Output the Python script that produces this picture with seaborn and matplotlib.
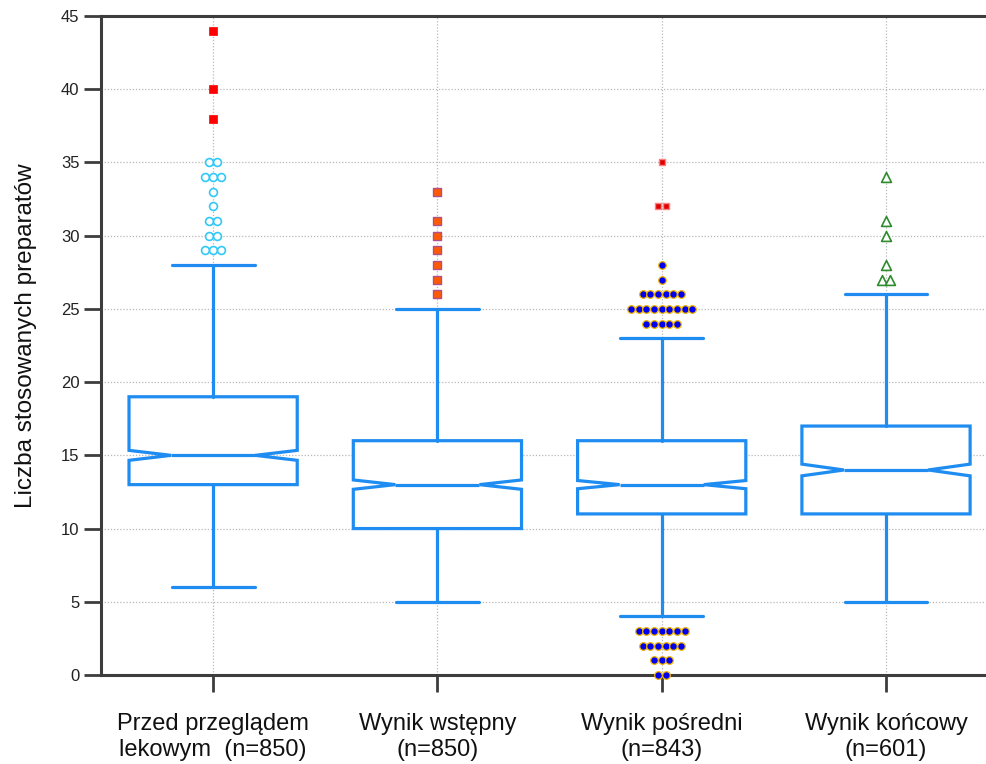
import numpy as np
import pandas as pd
import matplotlib
matplotlib.use("Agg")
import matplotlib.pyplot as plt
import seaborn as sns

# ---- data ----
categories = ["Przed przeglądem\nlekowym  (n=850)", "Wynik wstępny\n(n=850)",
              "Wynik pośredni\n(n=843)", "Wynik końcowy\n(n=601)"]
whisker_lo = [6, 5, 4, 5]
q1 = [13, 10, 11, 11]
median = [15, 13, 13, 14]
q3 = [19, 16, 16, 17]
whisker_hi = [28, 25, 23, 26]
notch_lo = [14.66, 12.68, 12.72, 13.6]
notch_hi = [15.34, 13.32, 13.28, 14.4]

g1_mild = [29, 29, 29, 30, 30, 31, 31, 32, 33, 34, 34, 34, 35, 35]
g1_extreme = [38, 40, 44]
g2_mild = [26, 27, 28, 29, 30, 31, 33]
g3_mild = [0, 0, 1, 1, 1, 2, 2, 2, 2, 2, 2, 3, 3, 3, 3, 3, 3, 3,
           24, 24, 24, 24, 24, 25, 25, 25, 25, 25, 25, 25, 25, 25,
           26, 26, 26, 26, 26, 26, 27, 28]
g3_extreme = [32, 32, 35]
g4_mild = [27, 27, 28, 30, 31, 34]

y_ticks = [0, 5, 10, 15, 20, 25, 30, 35, 40, 45]

# ---- style ----
sns.set_style("ticks")
plt.rcParams["font.family"] = ["Liberation Sans", "DejaVu Sans"]

BLUE = "#1E8CF0"
AX = "#3d3d3d"

fig = plt.figure(figsize=(9.87, 7.64), dpi=100)
ax = fig.add_axes([0.1023, 0.1165, 0.909, 0.8625])

stats = []
for i in range(len(categories)):
    stats.append(dict(med=median[i], q1=q1[i], q3=q3[i], whislo=whisker_lo[i],
                      whishi=whisker_hi[i], cilo=notch_lo[i], cihi=notch_hi[i],
                      fliers=[], label=categories[i]))

lw = 2.3
ax.bxp(stats, positions=range(4), widths=0.75, shownotches=True, showfliers=False,
       patch_artist=True, capwidths=0.37,
       boxprops=dict(facecolor="white", edgecolor=BLUE, linewidth=lw),
       whiskerprops=dict(color=BLUE, linewidth=lw),
       capprops=dict(color=BLUE, linewidth=lw),
       medianprops=dict(color=BLUE, linewidth=lw), zorder=3)


def spread(vals, pos, step=0.034):
    xs, ys = [], []
    vals = np.asarray(vals)
    for v in np.unique(vals):
        k = int((vals == v).sum())
        for j in range(k):
            xs.append(pos + (j - (k - 1) / 2) * step)
            ys.append(v)
    return pd.DataFrame({"x": xs, "y": ys})


groups = [
    (g1_mild, 0, dict(marker="o", facecolor="white", edgecolor="#33C8F5", s=32, linewidth=1.2)),
    (g1_extreme, 0, dict(marker="s", facecolor="#FF0000", edgecolor="#FF0000", s=38, linewidth=0.5)),
    (g2_mild, 1, dict(marker="s", facecolor="#FF5A00", edgecolor="#B0508A", s=40, linewidth=1.0)),
    (g3_mild, 2, dict(marker="o", facecolor="#0000F0", edgecolor="#F2B600", s=30, linewidth=0.9)),
    (g3_extreme, 2, dict(marker="s", facecolor="#E00000", edgecolor="#FF8080", s=14, linewidth=1.0)),
    (g4_mild, 3, dict(marker="^", facecolor="white", edgecolor="#2E8B2E", s=50, linewidth=1.2)),
]
for vals, pos, kw in groups:
    df = spread(vals, pos)
    sns.scatterplot(data=df, x="x", y="y", ax=ax, zorder=4, clip_on=False, **kw)

ax.set_xlim(-0.5, 3.5)
ax.set_ylim(0, 45)
ax.set_xticks(range(4))
ax.set_xticklabels(categories, fontsize=17, color="#111111", linespacing=1.2)
ax.set_yticks(y_ticks)
ax.set_yticklabels([str(t) for t in y_ticks], fontsize=12, color="#222222")
ax.set_xlabel("")
ax.set_ylabel("Liczba stosowanych preparatów", fontsize=17.5, color="#111111")
ax.yaxis.set_label_coords(-0.071, 0.515)

ax.grid(True, axis="both", linestyle=(0, (1, 1.5)), color="#b8b8b8", linewidth=0.9, zorder=0)
ax.set_axisbelow(True)

for side in ["left", "bottom", "top"]:
    ax.spines[side].set_color(AX)
    ax.spines[side].set_linewidth(2.2)
ax.spines["right"].set_visible(False)
ax.tick_params(axis="both", length=12.5, width=2.0, color=AX, direction="out")
ax.tick_params(axis="x", pad=15)
ax.tick_params(axis="y", pad=3)
ax.tick_params(top=False, right=False)

fig.savefig("out.png", dpi=100)
